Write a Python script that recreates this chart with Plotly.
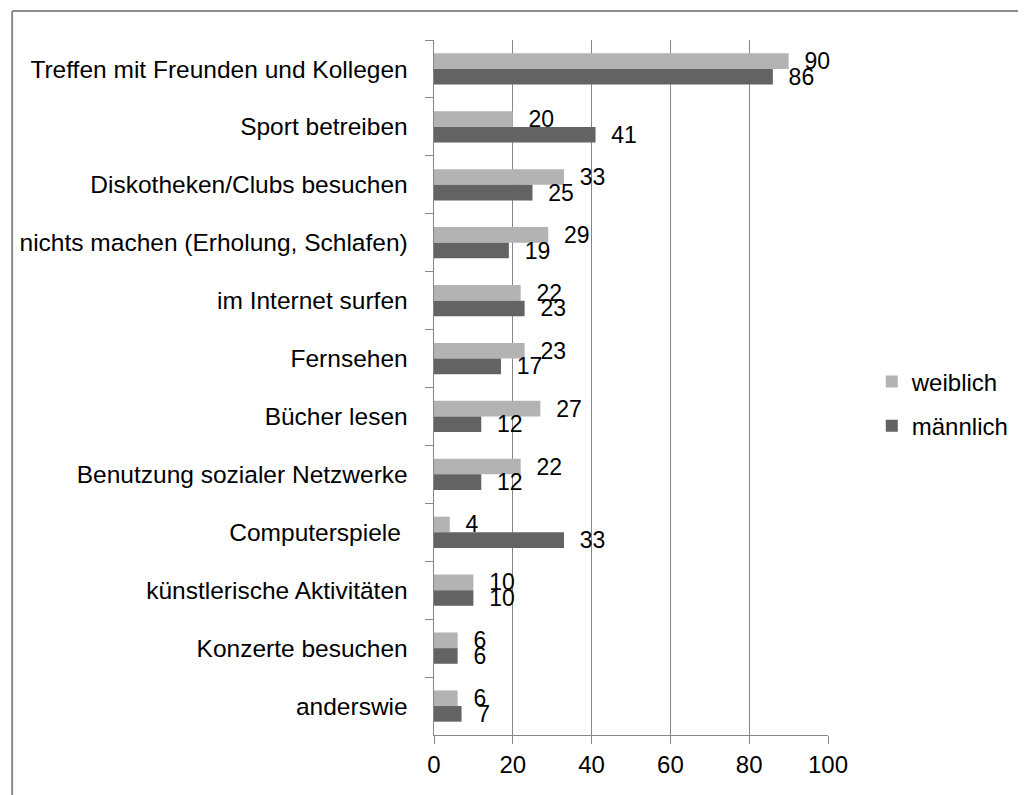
import plotly.graph_objects as go

categories = [
    "Treffen mit Freunden und Kollegen",
    "Sport betreiben",
    "Diskotheken/Clubs besuchen",
    "nichts machen (Erholung, Schlafen)",
    "im Internet surfen",
    "Fernsehen",
    "Bücher lesen",
    "Benutzung sozialer Netzwerke",
    "Computerspiele ",
    "künstlerische Aktivitäten",
    "Konzerte besuchen",
    "anderswie",
]
weiblich = [90, 20, 33, 29, 22, 23, 27, 22, 4, 10, 6, 6]
maennlich = [86, 41, 25, 19, 23, 17, 12, 12, 33, 10, 6, 7]
x_ticks = [0, 20, 40, 60, 80, 100]

FONT = "Liberation Sans"
GRID = "#868686"

fig = go.Figure()
fig.add_trace(go.Bar(
    name="weiblich", y=categories, x=weiblich, orientation="h", legendgroup="w",
    marker=dict(color="#B3B3B3", line=dict(width=0)),
    text=weiblich, texttemplate="\u00a0\u00a0%{x}", textposition="outside",
    constraintext="none", cliponaxis=False,
    textfont=dict(family=FONT, size=23, color="black"),
))
fig.add_trace(go.Bar(
    name="männlich", y=categories, x=maennlich, orientation="h", legendgroup="m",
    marker=dict(color="#636363", line=dict(width=0)),
    text=maennlich, texttemplate="\u00a0\u00a0%{x}", textposition="outside",
    constraintext="none", cliponaxis=False,
    textfont=dict(family=FONT, size=23, color="black"),
))

# page body has an 8px margin; figure coordinates are offset by it
OFF = 8
W, H = 1026 - OFF, 795 - OFF
L, T = 432 - OFF, 40 - OFF
pw, ph = 396, 695
PB = T + ph  # plot bottom in figure px

fig.update_layout(
    width=W, height=H,
    margin=dict(l=L, r=W - L - pw, t=T, b=H - PB, pad=0),
    paper_bgcolor="white", plot_bgcolor="white",
    barmode="group", bargap=0.46, bargroupgap=0,
    font=dict(family=FONT, size=24, color="black"),
    showlegend=True,
    legend=dict(
        x=(872 - OFF - L) / pw, y=(PB - (404 - OFF)) / ph, xanchor="left", yanchor="middle",
        font=dict(family=FONT, size=24, color="black"),
        bgcolor="rgba(0,0,0,0)", itemwidth=30, traceorder="grouped", tracegroupgap=10,
    ),
    xaxis=dict(
        range=[0, 100], tickvals=x_ticks, showgrid=True, gridcolor=GRID, gridwidth=1,
        showline=True, linecolor=GRID, linewidth=1,
        ticks="outside", ticklen=8, tickcolor=GRID, zeroline=False,
        tickfont=dict(family=FONT, size=24, color="black"),
    ),
    yaxis=dict(
        categoryorder="array", categoryarray=categories, autorange="reversed",
        showline=True, linecolor=GRID, linewidth=1,
        ticks="outside", ticklen=8, tickcolor=GRID, tickson="boundaries",
        showgrid=False, ticksuffix="\u00a0\u00a0\u00a0",
        tickfont=dict(family=FONT, size=24.5, color="black"),
    ),
    shapes=[
        dict(type="line", xref="paper", yref="paper",
             x0=(8 - OFF - L) / pw, x1=(8 - OFF - L) / pw,
             y0=(PB - (11 - OFF)) / ph, y1=(PB - 820) / ph,
             line=dict(color="#8C8C8C", width=2)),
        dict(type="line", xref="paper", yref="paper",
             x0=(8 - OFF - L) / pw, x1=(1040 - L) / pw,
             y0=(PB - (11 - OFF)) / ph, y1=(PB - (11 - OFF)) / ph,
             line=dict(color="#8C8C8C", width=2)),
    ],
)

fig.write_html("out.html")
